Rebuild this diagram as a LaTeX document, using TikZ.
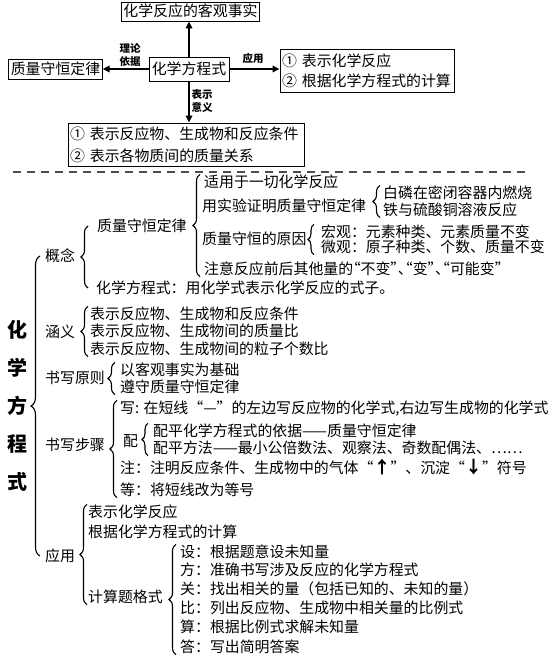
\documentclass[tikz,border=0pt]{standalone}
\usepackage{fontspec}
\setmainfont{Noto Sans CJK SC}
\newfontfamily\halffont[RawFeature=+halt]{Noto Sans CJK SC}
\usetikzlibrary{decorations.pathreplacing,arrows.meta}
\begin{document}
\begin{tikzpicture}[x=1pt,y=-1pt,
  font=\fontsize{14.9}{18}\selectfont,
  txt/.style={anchor=west, inner sep=0pt, text height=12.8pt, text depth=2.1pt},
  box/.style={draw, line width=0.9pt, inner xsep=2pt, inner ysep=0pt, text height=12.8pt, text depth=2.1pt},
  mbox/.style={draw, line width=0.9pt, inner sep=0pt, align=left},
  arr/.style={line width=1.6pt, -{Triangle[length=7pt,width=6.5pt]}},
  brc/.style={decorate, decoration={brace, amplitude=7pt}, line width=1.1pt},
  lbl/.style={font=\fontsize{10.5}{12.5}\selectfont\bfseries, align=center, inner sep=0pt}]
\useasboundingbox (0,0) rectangle (555,660);
\fill[white] (0,0) rectangle (555,660);

% ---------- top diagram ----------
\node[box, minimum width=137pt, minimum height=19pt] (fact) at (190.5,11.5) {化学反应的客观事实};
\node[box, minimum width=80pt, minimum height=24pt] (eq) at (189,69) {化学方程式};
\node[box, minimum width=93pt, minimum height=20pt] (law) at (55.5,69) {质量守恒定律};
\node[mbox, minimum width=174pt, minimum height=43pt, text width=170pt,
      font=\fontsize{14.9}{20}\selectfont] (app) at (367,70.5) {① 表示化学反应\\② 根据化学方程式的计算};
\node[mbox, minimum width=236pt, minimum height=43pt, text width=232pt,
      font=\fontsize{14.9}{22}\selectfont] (mean) at (186,144.5) {① 表示反应物、生成物和反应条件\\② 表示各物质间的质量关系};

\draw[arr] (eq.north) -- (eq.north |- fact.south);
\draw[arr] (eq.west) -- (law.east);
\draw[arr] (eq.east) -- (eq.east -| app.west);
\draw[arr] (eq.south) -- (eq.south |- mean.north);

\node[lbl] (l1) at (130,55) {理论\\依据};
\node[lbl] (l2) at (253,58) {应用};
\node[lbl] (l3) at (202,101) {表示\\意义};

\coordinate (dl) at (13,172);
\coordinate (dr) at (527,172);
\draw[line width=1.8pt, black!70, dash pattern=on 8pt off 6pt] (dl) -- (dr);

% ---------- tree ----------
\node[font=\fontsize{20}{38}\selectfont\bfseries, align=center, inner sep=0pt] (title) at (17,406) {化\\学\\方\\程\\式};

\node[txt] (gn) at (45,256) {概念};
\node[txt] (zl) at (97,226) {质量守恒定律};
\node[txt] (z1) at (204,182) {适用于一切化学反应};
\node[txt] (z2) at (202,206) {用实验证明质量守恒定律};
\node[txt] (z2a) at (383,193) {白磷在密闭容器内燃烧};
\node[txt] (z2b) at (383,210) {铁与硫酸铜溶液反应};
\node[txt] (z3) at (202,239) {质量守恒的原因};
\node[txt] (z3a) at (321,232) {宏观：元素种类、元素质量不变};
\node[txt] (z3b) at (321,247) {微观：原子种类、个数、质量不变};
\node[txt] (z4) at (204,269) {注意反应前后其他量的{\halffont “不变”、“变”、“可能变”}};
\node[txt] (df) at (96,288) {化学方程式：用化学式表示化学反应的式子。};

\node[txt] (hy) at (45,332) {涵义};
\node[txt] (h1) at (90,314) {表示反应物、生成物和反应条件};
\node[txt] (h2) at (90,331.5) {表示反应物、生成物间的质量比};
\node[txt] (h3) at (90,349) {表示反应物、生成物间的粒子个数比};

\node[txt] (sy) at (45,378) {书写原则};
\node[txt] (s1) at (120,370) {以客观事实为基础};
\node[txt] (s2) at (120,387) {遵守质量守恒定律};

\node[txt] (sb) at (45,445) {书写步骤};
\node[txt] (b1) at (120,408) {写: 在短线“—”的左边写反应物的化学式,右边写生成物的化学式};
\node[txt] (pe) at (123,441) {配};
\node[txt] (p1) at (153,431) {配平化学方程式的依据——质量守恒定律};
\node[txt] (p2) at (153,448) {配平方法——最小公倍数法、观察法、奇数配偶法、……};
\node[txt] (b3) at (120,468) {注：注明反应条件、生成物中的气体“{\bfseries\fontsize{17}{18}\selectfont ↑}”、沉淀“{\bfseries\fontsize{17}{18}\selectfont ↓}”符号};
\node[txt] (b4) at (120,490) {等：将短线改为等号};

\node[txt] (yy) at (45,556) {应用};
\node[txt] (a1) at (88,512) {表示化学反应};
\node[txt] (a2) at (88,532) {根据化学方程式的计算};
\node[txt] (a3) at (88,597) {计算题格式};
\node[txt] (c1) at (180,552) {设：根据题意设未知量};
\node[txt] (c2) at (180,570.5) {方：准确书写涉及反应的化学方程式};
\node[txt] (c3) at (180,589) {关：找出相关的量（包括已知的、未知的量）};
\node[txt] (c4) at (180,608) {比：列出反应物、生成物中相关量的比例式};
\node[txt] (c5) at (180,627.5) {算：根据比例式求解未知量};
\node[txt] (c6) at (180,647) {答：写出简明答案};

% ---------- braces ----------
\coordinate (bx0) at (40,0);
\coordinate (bx1) at (88,0);
\coordinate (bx2) at (200,0);
\coordinate (bx3) at (380,0);
\coordinate (bx4) at (314,0);
\coordinate (bx5) at (88,0);
\coordinate (bx6) at (115,0);
\coordinate (bx7) at (117,0);
\coordinate (bx8) at (148,0);
\coordinate (bx9) at (87,0);
\coordinate (bx10) at (176,0);

\draw[brc, decoration={amplitude=9pt}] (yy.west -| bx0) -- (gn.west -| bx0);
\draw[brc] (df.west -| bx1) -- (zl.west -| bx1);
\draw[brc] (z4.south -| bx2) -- (z1.north -| bx2);
\draw[brc] (z2b.south -| bx3) -- (z2a.north -| bx3);
\draw[brc, decoration={amplitude=6pt}] (z3b.south -| bx4) -- (z3a.north -| bx4);
\draw[brc] (h3.south -| bx5) -- (h1.north -| bx5);
\draw[brc] (s2.south -| bx6) -- (s1.north -| bx6);
\draw[brc] (b4.south -| bx7) -- (b1.north -| bx7);
\draw[brc, decoration={amplitude=6pt}] (p2.south -| bx8) -- (p1.north -| bx8);
\draw[brc] (a3.south -| bx9) -- (a1.north -| bx9);
\draw[brc] (c6.south -| bx10) -- (c1.north -| bx10);
\end{tikzpicture}
\end{document}
